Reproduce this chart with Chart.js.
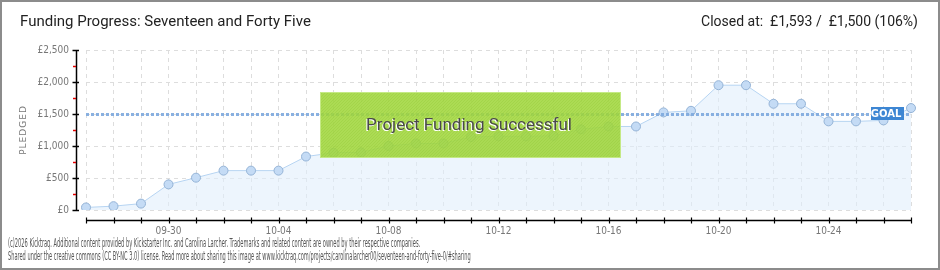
<!DOCTYPE html>
<html><head><meta charset="utf-8">
<script src="https://cdn.jsdelivr.net/npm/chart.js@4/dist/chart.umd.min.js"></script>
<style>
html,body{margin:0;padding:0;background:#fff;}
#wrap{position:relative;width:940px;height:270px;overflow:hidden;}
#frame{position:absolute;left:0;top:0;width:936px;height:266px;border:2px solid #8c8c8c;pointer-events:none;}
canvas{position:absolute;left:0;top:0;}
.t{position:absolute;white-space:nowrap;}
#title{left:20px;top:12px;font:15px "Roboto",sans-serif;color:#222;}
#closed{right:22px;top:13px;font:14px "Roboto",sans-serif;color:#222;}
.foot{left:8px;font:12px "Liberation Sans Narrow","DejaVu Sans Condensed",sans-serif;color:#555;transform-origin:0 0;}
</style></head>
<body><div id="wrap">
<canvas id="c" width="940" height="270"></canvas>
<div class="t" id="title">Funding Progress: Seventeen and Forty Five</div>
<div class="t" id="closed">Closed at:&nbsp; £1,593 /&nbsp; £1,500 (106%)</div>
<div class="t foot" id="f1" style="top:236px">(c)2026 Kicktraq. Additional content provided by Kickstarter Inc. and Carolina Larcher. Trademarks and related content are owned by their respective companies.</div>
<div class="t foot" id="f2" style="top:249px">Shared under the creative commons (CC BY-NC 3.0) license. Read more about sharing this image at www.kicktraq.com/projects/carolinalarcher00/seventeen-and-forty-five-0/#sharing</div>
<div id="frame"></div>
</div>
<script>
const dates = ["09-27","09-28","09-29","09-30","10-01","10-02","10-03","10-04","10-05","10-06","10-07","10-08","10-09","10-10","10-11","10-12","10-13","10-14","10-15","10-16","10-17","10-18","10-19","10-20","10-21","10-22","10-23","10-24","10-25","10-26","10-27"];
const pledged = [40,60,100,400,505,615,615,615,835,895,900,1000,1040,1040,1140,1150,1150,1160,1260,1305,1305,1525,1550,1950,1950,1660,1660,1385,1385,1400,1593];
const goal = 1500;
const yTicks = [0,500,1000,1500,2000,2500];
const yTickLabels = ["£0","£500","£1,000","£1,500","£2,000","£2,500"];
const shownDates = ["09-30","10-04","10-08","10-12","10-16","10-20","10-24"];

function fitFoot(id,w){const el=document.getElementById(id);const s=w/el.offsetWidth;el.style.transform='scaleX('+s+')';}
fitFoot('f1',412);fitFoot('f2',463);

const overlay = {
  id:'overlay',
  afterDatasetsDraw(chart){
    const ctx=chart.ctx, a=chart.chartArea, x=chart.scales.x, y=chart.scales.y;
    ctx.save();
    const gy=Math.round(y.getPixelForValue(goal))+0.5;
    ctx.strokeStyle='rgba(125,168,222,0.9)';ctx.lineWidth=3;ctx.setLineDash([3,2]);
    ctx.beginPath();ctx.moveTo(a.left,gy);ctx.lineTo(a.right,gy);ctx.stroke();
    ctx.setLineDash([]);
    const ax=76.5;
    ctx.strokeStyle='#000';ctx.lineWidth=1.5;
    ctx.beginPath();ctx.moveTo(ax,y.getPixelForValue(2500));ctx.lineTo(ax,y.getPixelForValue(0));ctx.stroke();
    yTicks.forEach(v=>{const py=Math.round(y.getPixelForValue(v))+0.5;ctx.beginPath();ctx.moveTo(72.5,py);ctx.lineTo(79,py);ctx.stroke();});
    ctx.strokeStyle='#e00000';
    for(let i=0;i<yTicks.length-1;i++){const py=Math.round(y.getPixelForValue((yTicks[i]+yTicks[i+1])/2))+0.5;ctx.beginPath();ctx.moveTo(73,py);ctx.lineTo(76,py);ctx.stroke();}
    const xy=220.5;
    ctx.strokeStyle='#000';ctx.lineWidth=1.5;
    ctx.beginPath();ctx.moveTo(a.left,xy);ctx.lineTo(a.right,xy);ctx.stroke();
    ctx.lineWidth=1.2;
    dates.forEach((d,i)=>{const px=Math.round(x.getPixelForValue(i))+0.5;ctx.beginPath();ctx.moveTo(px,217.5);ctx.lineTo(px,223.5);ctx.stroke();});
    ctx.fillStyle='#777';ctx.font='9px "DejaVu Sans",sans-serif';
    ctx.translate(24,130);ctx.rotate(-Math.PI/2);ctx.textAlign='center';ctx.textBaseline='middle';
    if(ctx.letterSpacing!==undefined) ctx.letterSpacing='1px';
    ctx.fillText('PLEDGED',0,0);
    ctx.restore();
    ctx.save();
    const bx=320,by=92,bw=301,bh=66;
    ctx.fillStyle='rgba(160,214,60,0.88)';ctx.fillRect(bx,by,bw,bh);
    ctx.beginPath();ctx.rect(bx,by,bw,bh);ctx.clip();
    ctx.strokeStyle='rgba(140,195,45,0.25)';ctx.lineWidth=1;
    for(let k=-bh;k<bw;k+=3){ctx.beginPath();ctx.moveTo(bx+k,by+bh);ctx.lineTo(bx+k+bh,by);ctx.stroke();}
    ctx.restore();
    ctx.save();
    ctx.strokeStyle='rgba(200,235,140,0.9)';ctx.lineWidth=1;ctx.strokeRect(bx+0.5,by+0.5,bw-1,bh-1);
    ctx.font='17px "Roboto",sans-serif';ctx.textAlign='center';ctx.textBaseline='middle';
    ctx.fillStyle='#ffffff';ctx.fillText('Project Funding Successful',468,127);
    ctx.fillStyle='#4a4a4a';ctx.fillText('Project Funding Successful',469,126);
    ctx.fillStyle='#3d86d3';ctx.fillRect(871,107,33,13);
    ctx.fillStyle='#fff';ctx.font='bold 10px "DejaVu Sans",sans-serif';ctx.textAlign='center';
    ctx.fillText('GOAL',886,114);
    ctx.restore();
  }
};

new Chart(document.getElementById('c'),{
  type:'line',
  data:{labels:dates,datasets:[{
    data:pledged,
    borderColor:'#b6d4f2',borderWidth:1,
    backgroundColor:'rgba(225,238,252,0.6)',fill:'origin',
    pointRadius:4.5,pointBackgroundColor:'#c4dbf5',pointBorderColor:'#94b3d6',pointBorderWidth:1,
    tension:0
  }]},
  options:{
    responsive:false,animation:false,
    layout:{padding:{left:0,right:29,top:50,bottom:0}},
    plugins:{legend:{display:false},tooltip:{enabled:false}},
    scales:{
      x:{type:'category',offset:false,
        afterFit(s){s.height=60;},
        grid:{color:'#dddddd',drawTicks:false,tickLength:0},
        border:{display:false,dash:[4,4]},
        ticks:{autoSkip:false,maxRotation:0,padding:15,color:'#777',font:{size:10,family:'"DejaVu Sans Condensed","DejaVu Sans",sans-serif'},
          callback(v,i){return shownDates.includes(dates[i])?dates[i]:'';}}
      },
      y:{min:0,max:2500,
        afterFit(s){s.width=86;},
        afterBuildTicks(s){s.ticks=yTicks.map(v=>({value:v}));},
        grid:{color:'#dddddd',drawTicks:false,tickLength:0},
        border:{display:false,dash:[4,4]},
        ticks:{padding:17,color:'#777',font:{size:10,family:'"DejaVu Sans Condensed","DejaVu Sans",sans-serif'},
          callback(v){const i=yTicks.indexOf(v);return i>=0?yTickLabels[i]:'';}}
      }
    }
  },
  plugins:[overlay]
});
</script>
</body></html>
